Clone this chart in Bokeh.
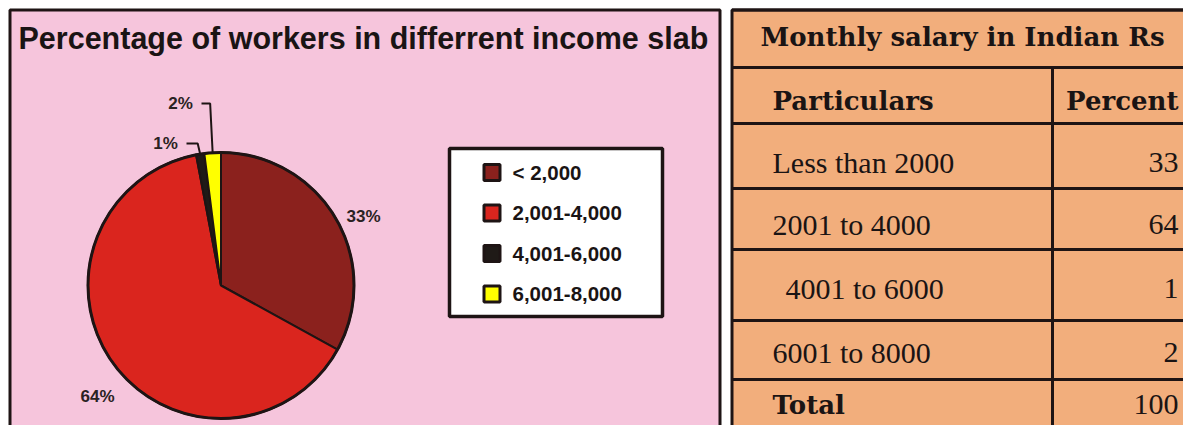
import numpy as np
from bokeh.plotting import figure
from bokeh.models import Range1d, ColumnDataSource
from bokeh.core.properties import value
from bokeh.embed import file_html
from bokeh.resources import INLINE

# ---------------- data ----------------
chart_title = "Percentage of workers in differrent income slab"
slabs = ["< 2,000", "2,001-4,000", "4,001-6,000", "6,001-8,000"]
percents = [33, 64, 1, 2]
table_title = "Monthly salary in Indian Rs"
table_headers = ["Particulars", "Percent"]
particulars = ["Less than 2000", "2001 to 4000", "4001 to 6000", "6001 to 8000"]
total_label = "Total"

# ---------------- styles / layout ----------------
slice_colors = ["#8B211D", "#DA251E", "#1F1A17", "#FFFF00"]
PINK = "#F6C5DC"
TABLE = "#F2AE7C"
BORDER = "#1E1414"
INK = "#1A1414"
SANS = value("Liberation Sans")
SERIF = value("Liberation Serif")
SERIF_B = value("DejaVu Serif")

W, H = 1183, 425
IMG_H = 441


def Y(yi):
    # picture pixel row (from top) -> data y
    return IMG_H - yi


p = figure(width=W, height=H, x_range=Range1d(0, W),
           y_range=Range1d(IMG_H - H, IMG_H),
           output_backend="svg", toolbar_location=None, min_border=0,
           x_axis_location=None, y_axis_location=None)
p.grid.visible = False
p.outline_line_color = None
p.background_fill_color = "white"
p.border_fill_color = "white"

# ---------------- left panel ----------------
p.quad(left=9.5, right=719.5, top=Y(9.5), bottom=Y(470),
       fill_color=PINK, line_color=BORDER, line_width=3)
p.text(x=[18], y=[Y(37)], text=[chart_title], text_font=SANS,
       text_font_style="bold", text_font_size="30.5px", text_color=INK,
       text_baseline="middle")

# pie
cx, cy, R = 220.5, Y(285), 133
fr = np.array(percents, dtype=float) / sum(percents)
cum = np.concatenate([[0.0], np.cumsum(fr)])
start = np.pi / 2 - 2 * np.pi * cum[:-1]
end = np.pi / 2 - 2 * np.pi * cum[1:]
src = ColumnDataSource(dict(x=[cx] * len(percents), y=[cy] * len(percents),
                            start=start, end=end, color=slice_colors))
p.wedge(x="x", y="y", radius=R, start_angle="start", end_angle="end",
        direction="clock", fill_color="color", line_color=BORDER,
        line_width=2, source=src)
p.circle(x=[cx], y=[cy], radius=R, fill_color=None, line_color=BORDER,
         line_width=3)

# pie labels
pie_label_xy = [(363, 216), (97, 396), (165, 143), (180, 103)]
p.text(x=[a for a, b in pie_label_xy], y=[Y(b) for a, b in pie_label_xy],
       text=[f"{v}%" for v in percents], text_align="center",
       text_baseline="middle", text_font=SANS, text_font_style="bold",
       text_font_size="17px", text_color="#2A2222")

xs, ys = [], []
for i, v in enumerate(percents):
    if v < 5:
        mid = (cum[i] + cum[i + 1]) / 2
        ang = np.pi / 2 - 2 * np.pi * mid
        px, py = cx + R * np.cos(ang), cy + R * np.sin(ang)
        lx, ly = pie_label_xy[i]
        xs.append([lx + 21, px - 2.5, px])
        ys.append([Y(ly), Y(ly), py])
p.multi_line(xs, ys, line_color=BORDER, line_width=2)

# legend
p.quad(left=449, right=662, top=Y(148), bottom=Y(316),
       fill_color="white", line_color=BORDER, line_width=3.5)
leg_y = [Y(172 + 40.5 * i) for i in range(len(slabs))]
p.rect(x=[491.5] * len(slabs), y=leg_y, width=16, height=16,
       fill_color=slice_colors, line_color=BORDER, line_width=3)
p.text(x=[512] * len(slabs), y=leg_y, text=slabs, text_font=SANS,
       text_font_style="bold", text_font_size="20.5px", text_color=INK,
       text_baseline="middle")

# ---------------- right panel: table ----------------
tl, tr, col_x = 731.5, 1300, 1052
row_lines = [9.5, 67, 123, 188, 249, 320, 379]
p.quad(left=tl, right=tr, top=Y(9.5), bottom=Y(470),
       fill_color=TABLE, line_color=BORDER, line_width=3)
p.segment(x0=[tl] * len(row_lines), y0=[Y(v) for v in row_lines],
          x1=[tr] * len(row_lines), y1=[Y(v) for v in row_lines],
          line_color=BORDER, line_width=3)
p.segment(x0=[col_x], y0=[Y(67)], x1=[col_x], y1=[Y(470)],
          line_color=BORDER, line_width=3)

bold_kw = dict(text_font=SERIF_B, text_font_style="bold",
               text_font_size="26px", text_color=INK,
               text_baseline="middle")
body_kw = dict(text_font=SERIF, text_font_size="30px", text_color=INK,
               text_baseline="middle")

p.text(x=[760], y=[Y(36)], text=[table_title], **bold_kw)
p.text(x=[772], y=[Y(100)], text=[table_headers[0]], **bold_kw)
p.text(x=[1178], y=[Y(100)], text=[table_headers[1]], text_align="right",
       **bold_kw)

row_mid = [162, 223.5, 287.5, 352]
row_indent = [0, 0, 13, 0]
p.text(x=[772 + d for d in row_indent], y=[Y(b) for b in row_mid],
       text=particulars, **body_kw)
p.text(x=[1178] * len(percents), y=[Y(b) for b in row_mid],
       text=[str(v) for v in percents], text_align="right", **body_kw)
p.text(x=[772], y=[Y(404)], text=[total_label], **bold_kw)
p.text(x=[1178], y=[Y(404)], text=[str(sum(percents))], text_align="right",
       **body_kw)

open("out.html", "w").write(file_html(p, INLINE))
